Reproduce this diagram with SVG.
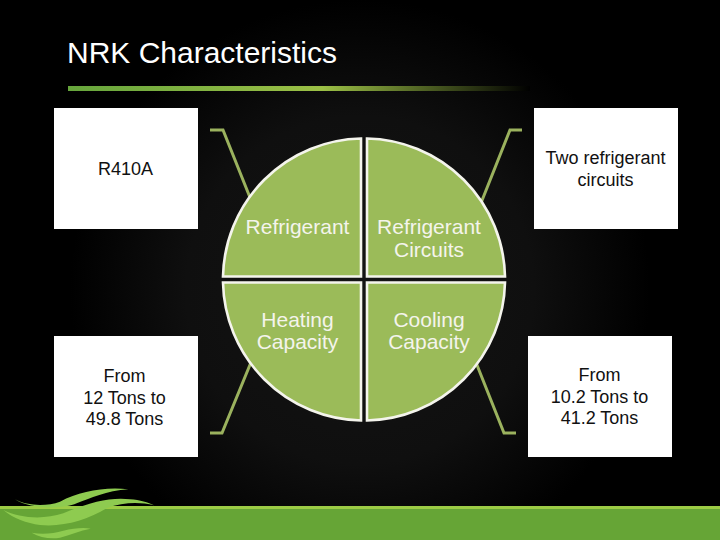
<svg xmlns="http://www.w3.org/2000/svg" width="720" height="540" viewBox="0 0 720 540">
<style>
text{font-family:"Liberation Sans",Arial,sans-serif;text-anchor:middle}
.box{fill:#fff}
.boxt{font-size:18px;fill:#111}
.q{fill:#9bbb59;stroke:#f4f4ec;stroke-width:2.6}
.qt{font-size:21px;fill:#f4f4ec}
.br{fill:none;stroke:#9bb25e;stroke-width:3}
.w{fill:#8ecb50}
</style>
<defs>
<linearGradient id="bar" x1="0" x2="1" y1="0" y2="0">
<stop offset="0" stop-color="#66a53c"/><stop offset=".55" stop-color="#9cc046"/><stop offset="1" stop-color="#000"/>
</linearGradient>
<radialGradient id="glow" gradientUnits="userSpaceOnUse" cx="360" cy="290" r="290">
<stop offset="0" stop-color="#141414"/><stop offset=".6" stop-color="#0f0f0f"/><stop offset="1" stop-color="#000"/>
</radialGradient>
</defs>
<rect width="720" height="540" fill="url(#glow)"/>
<g id="title">
<text x="202" y="62.500" font-size="30" fill="#fff">NRK Characteristics</text>
<rect x="68" y="86" width="462" height="5" fill="url(#bar)"/>
</g>
<g id="connectors">
<path class="br" d="M210 130H223L253 205"/>
<path class="br" d="M522 130H510L479 208"/>
<path class="br" d="M210 433H222L254 355"/>
<path class="br" d="M516 433H504L473 355"/>
</g>
<g id="quadrant-refrigerant">
<path class="q" d="M361 138.5V276.5H223A141 141 0 0 1 361 138.5Z"/>
<text class="qt" x="297.5" y="234">Refrigerant</text>
</g>
<g id="quadrant-circuits">
<path class="q" d="M367 138.5V276.5H505A141 141 0 0 0 367 138.5Z"/>
<text class="qt" x="429" y="234">Refrigerant</text>
<text class="qt" x="429" y="257">Circuits</text>
</g>
<g id="quadrant-heating">
<path class="q" d="M361 420.5V282.5H223A141 141 0 0 0 361 420.5Z"/>
<text class="qt" x="297.5" y="327">Heating</text>
<text class="qt" x="297.5" y="349">Capacity</text>
</g>
<g id="quadrant-cooling">
<path class="q" d="M367 420.5V282.5H505A141 141 0 0 1 367 420.5Z"/>
<text class="qt" x="429" y="327">Cooling</text>
<text class="qt" x="429" y="349">Capacity</text>
</g>
<g id="box-r410a">
<rect class="box" x="54" y="108" width="144" height="121"/>
<text class="boxt" x="125.500" y="175">R410A</text>
</g>
<g id="box-circuits">
<rect class="box" x="534" y="108" width="144" height="121"/>
<text class="boxt" x="605.500" y="164">Two refrigerant</text>
<text class="boxt" x="605.500" y="186">circuits</text>
</g>
<g id="box-heating">
<rect class="box" x="54" y="336" width="144" height="121"/>
<text class="boxt" x="124.500" y="382">From</text>
<text class="boxt" x="124.500" y="404">12 Tons to</text>
<text class="boxt" x="124.500" y="425">49.8 Tons</text>
</g>
<g id="box-cooling">
<rect class="box" x="528" y="336" width="144" height="121"/>
<text class="boxt" x="599.500" y="381">From</text>
<text class="boxt" x="599.500" y="403">10.2 Tons to</text>
<text class="boxt" x="599.500" y="424">41.2 Tons</text>
</g>
<g id="footer">
<rect y="506" width="720" height="34" fill="#66a536"/>
<rect y="506" width="720" height="3" fill="#9ccc45"/>
<g transform="translate(0 470) scale(.3333)">
<path class="w" d="M45 88C80 108 140 110 180 95C240 65 310 50 385 58C320 62 270 85 230 100C190 118 90 118 45 88Z"/>
<path class="w" d="M10 120C60 145 130 150 190 130C260 100 330 80 390 88C420 90 445 98 462 106C420 96 370 96 320 115C260 150 190 172 120 165C80 160 40 145 10 120Z"/>
<path class="w" d="M95 188C130 195 160 190 190 182C220 175 250 172 272 176C240 182 210 195 180 203C150 208 120 202 95 188Z"/>
</g>
</g>
</svg>
